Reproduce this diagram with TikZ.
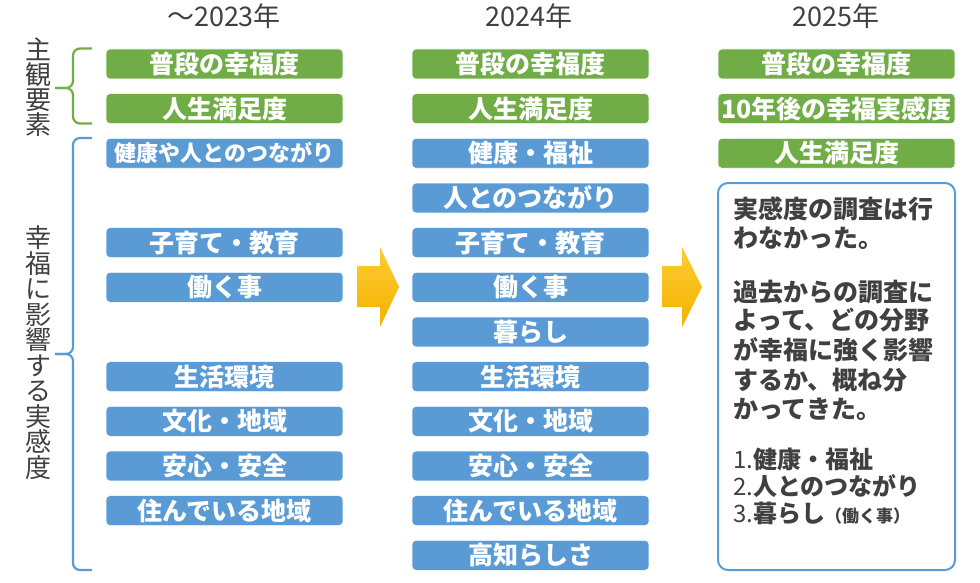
\documentclass[tikz,border=0pt]{standalone}
\usepackage{fontspec}
\setmainfont{Noto Sans CJK JP}
\definecolor{gr}{HTML}{70AD47}
\definecolor{bl}{HTML}{5B9BD5}
\definecolor{tx}{HTML}{404040}
\definecolor{arT}{HTML}{FFCC33}
\definecolor{arB}{HTML}{F2B200}
\begin{document}
\begin{tikzpicture}[x=1pt,y=-1pt,
  box/.style={rounded corners=4pt, minimum width=237pt, minimum height=30pt, inner sep=0pt, text=white, font=\fontsize{25}{25}\selectfont\bfseries, draw=white, line width=0.6pt},
  gbox/.style={box, fill=gr},
  bbox/.style={box, fill=bl},
  hdr/.style={text=tx, font=\fontsize{27}{27}\selectfont, inner sep=0pt},
  vlab/.style={text=tx, align=center, inner sep=0pt},
  ptxt/.style={text=tx, anchor=base west, inner sep=0pt, font=\fontsize{25}{25}\selectfont\bfseries},
  ltxt/.style={text=tx, anchor=base west, inner sep=0pt, font=\fontsize{24}{24}\selectfont\bfseries},
  brace/.style={line width=2.2pt, rounded corners=7pt},
  arrowshape/.style={top color=arT, bottom color=arB}
]
\useasboundingbox (0,0) rectangle (980,583);

% headers
\node[hdr] (h1) at (224,16) {～2023年};
\node[hdr] (h2) at (529,16) {2024年};
\node[hdr] (h3) at (836,16) {2025年};

% vertical labels
\node[vlab, font=\fontsize{26}{25}\selectfont] (lab1) at (38,87) {主\\観\\要\\素};
\node[vlab, font=\fontsize{26}{25.5}\selectfont] (lab2) at (38,352.5) {幸\\福\\に\\影\\響\\す\\る\\実\\感\\度};

% braces
\draw[brace, gr] (92,48.5) -- (73,48.5) -- (73,88) -- (55,88);
\draw[brace, gr] (92,123.5) -- (73,123.5) -- (73,88) -- (55,88);
\draw[brace, bl] (92,138) -- (73,138) -- (73,354) -- (55,354);
\draw[brace, bl] (92,570) -- (73,570) -- (73,354) -- (55,354);

% column 1
\node[gbox] (a0) at (224.5,64) {普段の幸福度};
\node[gbox] (a1) at (224.5,108.6) {人生満足度};
\node[bbox, font=\fontsize{22}{22}\selectfont\bfseries] (a2) at (224.5,153.3) {健康や人とのつながり};
\node[bbox] (a4) at (224.5,242.6) {子育て・教育};
\node[bbox] (a5) at (224.5,287.3) {働く事};
\node[bbox] (a7) at (224.5,376.6) {生活環境};
\node[bbox] (a8) at (224.5,421.3) {文化・地域};
\node[bbox] (a9) at (224.5,466) {安心・安全};
\node[bbox] (a10) at (224.5,510.6) {住んでいる地域};

% column 2
\node[gbox] (b0) at (530.5,64) {普段の幸福度};
\node[gbox] (b1) at (530.5,108.6) {人生満足度};
\node[bbox] (b2) at (530.5,153.3) {健康・福祉};
\node[bbox] (b3) at (530.5,198) {人とのつながり};
\node[bbox] (b4) at (530.5,242.6) {子育て・教育};
\node[bbox] (b5) at (530.5,287.3) {働く事};
\node[bbox] (b6) at (530.5,332) {暮らし};
\node[bbox] (b7) at (530.5,376.6) {生活環境};
\node[bbox] (b8) at (530.5,421.3) {文化・地域};
\node[bbox] (b9) at (530.5,466) {安心・安全};
\node[bbox] (b10) at (530.5,510.6) {住んでいる地域};
\node[bbox] (b11) at (530.5,555.3) {高知らしさ};

% column 3
\node[gbox] (c0) at (836.5,64) {普段の幸福度};
\node[gbox] (c1) at (836.5,108.6) {10年後の幸福実感度};
\node[gbox] (c2) at (836.5,153.3) {人生満足度};
\node[draw=bl, line width=2pt, rounded corners=10pt, minimum width=237pt, minimum height=387pt, inner sep=0pt, fill=white] (note) at (836.5,376.5) {};

\node[ptxt] (p1) at (733,218.5) {実感度の調査は行};
\node[ptxt] (p2) at (733,247.5) {わなかった。};
\node[ptxt] (p3) at (733,301.5) {過去からの調査に};
\node[ptxt] (p4) at (733,329.5) {よって、どの分野};
\node[ptxt] (p5) at (733,359.5) {が幸福に強く影響};
\node[ptxt] (p6) at (733,389.5) {するか、概ね分};
\node[ptxt] (p7) at (733,418.5) {かってきた。};
\node[ltxt] (l1) at (733,468) {{\mdseries 1.}健康・福祉};
\node[ltxt] (l2) at (733,495) {{\mdseries 2.}人とのつながり};
\node[ltxt] (l3) at (733,522) {{\mdseries 3.}暮らし{\fontsize{17}{17}\selectfont （働く事）}};

% arrows
\shade[arrowshape] (357,266) -- (380,266) -- (380,247) -- (399,287) -- (380,327) -- (380,307) -- (357,307) -- cycle;
\shade[arrowshape] (662,266) -- (682,266) -- (682,247) -- (702,287) -- (682,327) -- (682,307) -- (662,307) -- cycle;
\end{tikzpicture}
\end{document}
